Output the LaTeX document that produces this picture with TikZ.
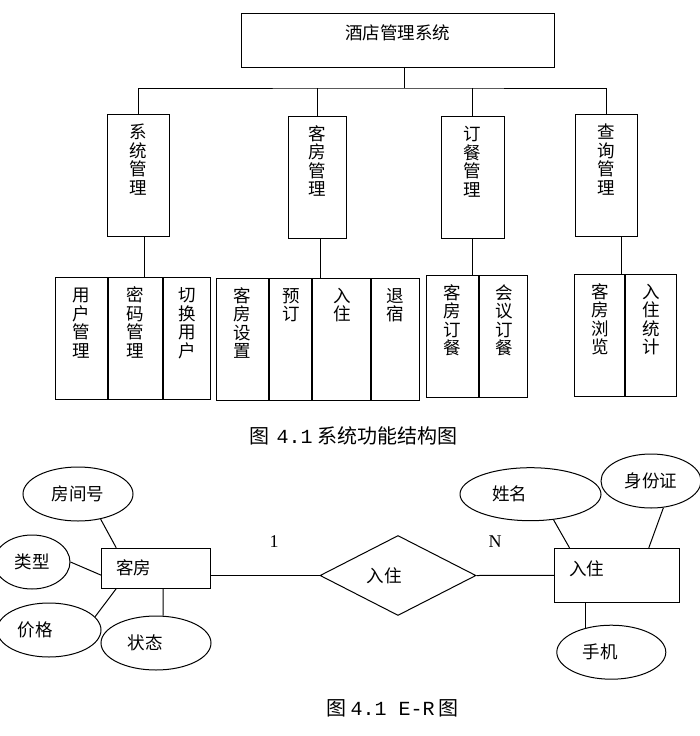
\documentclass[tikz,border=0pt]{standalone}
\usepackage{fontspec}
\setmainfont{Liberation Serif}
\newfontfamily\cjk{Noto Sans CJK SC}
\newfontfamily\mono{Liberation Mono}
\usetikzlibrary{shapes.geometric, positioning}
\newcommand{\colchars}[1]{\vtop{\baselineskip=18.4pt\lineskiplimit=-20pt\let\\\cr\halign{\hfil##\hfil\cr#1\cr}}}

\begin{document}
\begin{tikzpicture}[x=1pt, y=-1pt, line width=1pt,
  every node/.style={font=\cjk\fontsize{17.5}{18.4}\selectfont, inner sep=0pt},
  vcell/.style={draw, anchor=north west, text height=24pt, text depth=98pt, minimum width=#1},
  ent/.style={draw, rectangle},
  attr/.style={draw, ellipse, minimum height=54pt},
  rel/.style={draw, diamond, aspect=2, minimum width=156pt, minimum height=80pt},
  figcap/.style={anchor=west, font=\cjk\fontsize{20}{24}\selectfont}]
  \useasboundingbox (0,0) rectangle (699,736);

  \node[draw, minimum width=313pt, minimum height=54pt, text depth=15pt] (jd) at (397.5,40) {酒店管理系统};
  \node[vcell=62.8pt] (xtgl) at (106.6,114.3) {\colchars{系\\统\\管\\理}};
  \node[vcell=58.8pt] (kfgl) at (287.6,115.7) {\colchars{客\\房\\管\\理}};
  \node[vcell=63.3pt] (dcgl) at (440.5,116.3) {\colchars{订\\餐\\管\\理}};
  \node[vcell=62pt] (cxgl) at (574.7,114.3) {\colchars{查\\询\\管\\理}};

  \coordinate (bus) at (404,88);
  \draw (jd.south -| bus) -- (bus);
  \draw (xtgl.north) |- (bus) -| (cxgl.north);
  \draw (kfgl.north) -- (kfgl.north |- bus);
  \draw (dcgl.north) -- (dcgl.north |- bus);

  \node[vcell=52pt] (yhgl) at (54.7,277.3) {\colchars{用\\户\\管\\理}};
  \node[vcell=54.6pt] (mmgl) at (yhgl.north east) {\colchars{密\\码\\管\\理}};
  \node[vcell=47pt] (qhyh) at (mmgl.north east) {\colchars{切\\换\\用\\户}};

  \node[vcell=52.3pt] (kfsz) at (216,277.7) {\colchars{客\\房\\设\\置}};
  \node[vcell=42pt] (yd) at (kfsz.north east) {\colchars{预\\订}};
  \node[vcell=58pt] (rz) at (yd.north east) {\colchars{入\\住}};
  \node[vcell=47.7pt] (ts) at (rz.north east) {\colchars{退\\宿}};

  \node[vcell=52.6pt] (kfdc) at (425.7,275) {\colchars{客\\房\\订\\餐}};
  \node[vcell=48pt] (hydc) at (kfdc.north east) {\colchars{会\\议\\订\\餐}};

  \node[vcell=50pt] (kfll) at (574.3,274) {\colchars{客\\房\\浏\\览}};
  \node[vcell=51pt] (rztj) at (kfll.north east) {\colchars{入\\住\\统\\计}};

  \draw ([xshift=5.6pt]xtgl.south) -- ([xshift=5.6pt]xtgl.south |- mmgl.north);
  \draw ([xshift=3pt]kfgl.south) -- ([xshift=3pt]kfgl.south |- yd.north);
  \draw (dcgl.south) -- (dcgl.south |- kfdc.north);
  \draw ([xshift=15pt]cxgl.south) -- ([xshift=15pt]cxgl.south |- kfll.north);

  \node[figcap] (cap1) at (249,436) {图\hspace{7pt}{\mono 4.1}\hspace{5pt}系统功能结构图};

  \node[ent, minimum width=109pt, minimum height=40pt] (kf) at (156.2,568.2) {客房\hspace*{45pt}};
  \node[attr, minimum width=110pt] (fjh) at (78,494) {房间号};
  \node[attr, minimum width=76pt] (lx) at (32,562) {类型};
  \node[attr, minimum width=104pt] (jg) at (49,630) {价格\hspace*{28pt}};
  \node[attr, minimum width=110pt] (zt) at (156,643) {状态\hspace*{22pt}};
  \node[rel] (rzgx) at (398,575.5) {入住\hspace*{28pt}};
  \node[ent, minimum width=125pt, minimum height=54pt, text depth=15pt] (rzxx) at (616.8,575.3) {入住\hspace*{60pt}};
  \node[attr, minimum width=141pt, minimum height=53pt] (xm) at (530.5,494.2) {姓名\hspace*{42pt}};
  \node[attr, minimum width=100pt] (sfz) at (651,481) {身份证};
  \node[attr, minimum width=109pt] (sj) at (611.3,652.2) {手机\hspace*{22pt}};

  \draw (fjh.-48) -- ([xshift=15pt]kf.north west);
  \draw (lx.east) -- ([yshift=-7pt]kf.west);
  \draw (jg.16) -- ([xshift=15pt]kf.south west);
  \draw ([xshift=7pt]kf.south) -- ([xshift=7pt]zt.north);
  \draw (kf.east |- rzgx.west) -- (rzgx.west);
  \draw (rzgx.east) -- (rzxx.west);
  \draw (xm.-48) -- ([xshift=15.7pt]rzxx.north west);
  \draw (sfz.-65) -- ([xshift=-31pt]rzxx.north east);
  \draw (sj.137 |- rzxx.south) -- (sj.137);

  \node[font=\rmfamily\fontsize{18}{20}\selectfont] (one) at (274,541.7) {1};
  \node[font=\rmfamily\fontsize{18}{20}\selectfont] (many) at (495,541.7) {N};

  \node[figcap] (cap2) at (326,708) {图\hspace{4pt}{\mono 4.1 E-R}\hspace{4pt}图};
\end{tikzpicture}
\end{document}
